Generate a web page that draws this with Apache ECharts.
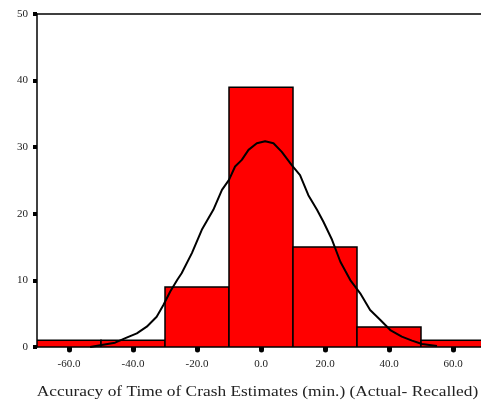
<!DOCTYPE html>
<html>
<head>
<meta charset="utf-8">
<script src="https://cdn.jsdelivr.net/npm/echarts@6/dist/echarts.min.js"></script>
<style>
html,body{margin:0;padding:0;background:#fff;}
#chart{width:481px;height:401px;}
</style>
</head>
<body>
<div id="chart"></div>
<script>
// Histogram bins (edges) and counts
var binEdges = [-70, -50, -30, -10, 10, 30, 50, 70];
var counts = [1, 1, 9, 39, 15, 3, 1];
// Fitted normal curve
var curveX = [-53.4, -49.8, -45.6, -42.0, -38.8, -35.7, -32.6, -30.5, -28.4, -26.2, -24.8, -21.6, -18.5, -14.9, -12.2, -10.0, -8.1, -6.0, -3.9, -1.3, 1.3, 3.9, 6.5, 9.6, 12.2, 14.8, 17.5, 19.5, 22.2, 24.8, 27.9, 31.0, 34.1, 37.3, 40.4, 44.0, 47.2, 50.3, 55.0];
var curveY = [0.0, 0.3, 0.65, 1.4, 2.05, 3.05, 4.55, 6.3, 8.3, 10.06, 11.07, 14.1, 17.6, 20.6, 23.6, 25.1, 27.1, 28.1, 29.6, 30.6, 30.9, 30.6, 29.3, 27.3, 25.8, 22.8, 20.6, 18.8, 16.1, 12.8, 10.05, 8.06, 5.55, 4.05, 2.55, 1.55, 0.95, 0.45, 0.15];
var xTicks = [-60, -40, -20, 0, 20, 40, 60];
var yTicks = [0, 10, 20, 30, 40, 50];
var xTitle = 'Accuracy of Time of Crash Estimates (min.) (Actual- Recalled)';

var FONT = "'Liberation Serif', 'DejaVu Serif', serif";

var barData = counts.map(function (c, i) { return [binEdges[i], binEdges[i + 1], c]; });
var curveData = curveX.map(function (x, i) { return [x, curveY[i]]; });

var chart = echarts.init(document.getElementById('chart'), null, {renderer: 'canvas'});
chart.setOption({
  animation: false,
  backgroundColor: '#ffffff',
  grid: {left: 37, top: 14, right: 0, bottom: 54, show: false},
  xAxis: [
    {
      type: 'value', min: -70, max: 68.75,
      splitLine: {show: false},
      axisLine: {show: true, onZero: false, lineStyle: {color: '#000', width: 1.5}},
      axisTick: {show: true, customValues: xTicks, length: 3, lineStyle: {color: '#000', width: 5, cap: 'round'}},
      axisLabel: {
        customValues: xTicks, margin: 12, color: '#222', fontFamily: FONT, fontSize: 11,
        formatter: function (v) { return Number(v).toFixed(1); }
      }
    },
    {
      type: 'value', min: -70, max: 68.75, position: 'top',
      splitLine: {show: false},
      axisLine: {show: true, onZero: false, lineStyle: {color: '#000', width: 1.5}},
      axisTick: {show: false},
      axisLabel: {show: false}
    }
  ],
  yAxis: {
    type: 'value', min: 0, max: 50, interval: 10,
    splitLine: {show: false},
    axisLine: {show: true, onZero: false, lineStyle: {color: '#000', width: 1.5}},
    axisTick: {show: true, length: 4, lineStyle: {color: '#000', width: 4}},
    axisLabel: {margin: 9, color: '#222', fontFamily: FONT, fontSize: 11}
  },
  graphic: [
    {
      type: 'text',
      x: 257.5, y: 392,
      scaleX: 1.24,
      style: {
        text: xTitle, fill: '#222', font: "14px 'Liberation Serif', 'DejaVu Serif', serif",
        textAlign: 'center', textVerticalAlign: 'middle'
      }
    }
  ],
  series: [
    {
      type: 'custom',
      data: barData,
      clip: true,
      renderItem: function (params, api) {
        var p0 = api.coord([api.value(0), api.value(2)]);
        var p1 = api.coord([api.value(1), 0]);
        return {
          type: 'rect',
          shape: {x: p0[0], y: p0[1], width: p1[0] - p0[0], height: p1[1] - p0[1]},
          style: {fill: '#ff0000', stroke: '#000', lineWidth: 1.5}
        };
      },
      z: 2
    },
    {
      type: 'line',
      data: curveData,
      showSymbol: false,
      symbol: 'none',
      smooth: false,
      lineStyle: {color: '#000', width: 2},
      z: 3
    }
  ]
});
</script>
</body>
</html>
